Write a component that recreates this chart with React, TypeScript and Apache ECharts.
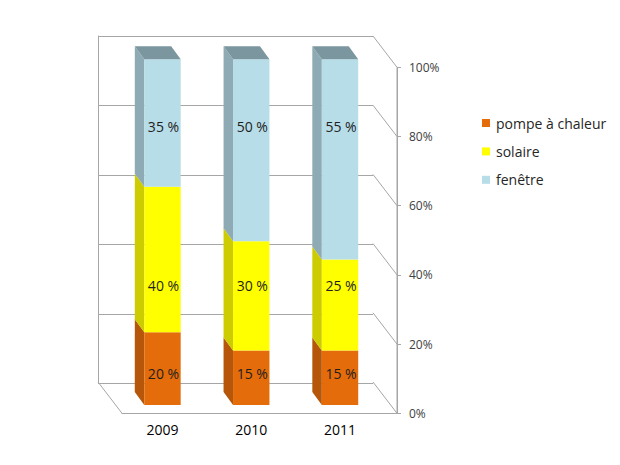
import React, { useEffect, useRef } from "react";
import * as echarts from "echarts";

// ---- data ----
const categories = ["2009", "2010", "2011"];
const seriesNames = ["pompe à chaleur", "solaire", "fenêtre"];
const pompeValues = [20, 15, 15];
const solaireValues = [40, 30, 25];
const fenetreValues = [35, 50, 55];
const tickValues = [0, 20, 40, 60, 80, 100];

// ---- styling / geometry ----
const FRONT_COLORS = ["#E46C0A", "#FFFF00", "#B7DDE8"];
const SIDE_COLORS = ["#B5560A", "#CCCC00", "#8EAAB4"];
const TOP_COLOR = "#7B969F";
const LINE_COLOR = "#A6A6A6";
const FONT = "'Open Sans', 'DejaVu Sans', sans-serif";
const LABEL_ROWS = [9, 34.7, 80.5]; // label rows (in % of axis) per series
const BAR_FRAC = 0.41;
const BAR_DX = 9.5;
const BAR_DY = 13;

const BACK = { left: 98, top: 36, width: 275, height: 347.3 };
const DEPTH_X = 24;
const DEPTH_Y = 31.3;
const FRONT = {
  left: BACK.left + DEPTH_X,
  top: BACK.top + DEPTH_Y,
  width: BACK.width,
  height: BACK.height - 1.3,
};
const BARS = { left: 118.1, top: 59.3, width: 266.3, height: 345.7 };

const W = 620;
const H = 465;

function gridOf(g: { left: number; top: number; width: number; height: number }) {
  return { left: g.left, top: g.top, width: g.width, height: g.height, containLabel: false };
}

export default function App() {
  const ref = useRef<HTMLDivElement>(null);

  useEffect(() => {
    if (!ref.current) return;
    const chart = echarts.init(ref.current, null, { renderer: "svg", width: W, height: H });

    const raw = [pompeValues, solaireValues, fenetreValues];
    const totals = categories.map((_, c) => raw.reduce((s, arr) => s + arr[c], 0));
    const cumulative = categories.map(() => 0);

    const barSeries = raw.map((arr, si) => {
      const data = arr.map((v, c) => {
        const bottom = cumulative[c];
        const top = bottom + (v / totals[c]) * 100;
        cumulative[c] = top;
        return [c, bottom, top, v];
      });
      const isTop = si === raw.length - 1;
      return {
        type: "custom",
        name: seriesNames[si],
        xAxisIndex: 2,
        yAxisIndex: 2,
        clip: false,
        z: 5,
        itemStyle: { color: FRONT_COLORS[si] },
        data,
        renderItem: (params: any, api: any) => {
          const c = api.value(0);
          const b = api.value(1);
          const t = api.value(2);
          const v = api.value(3);
          const pb = api.coord([c, b]);
          const pt = api.coord([c, t]);
          const w = api.size([1, 0])[0] * BAR_FRAC;
          const x0 = pb[0] - w / 2;
          const x1 = x0 + w;
          const yb = pb[1];
          const yt = pt[1];
          const children: any[] = [
            {
              type: "polygon",
              shape: {
                points: [
                  [x0, yb],
                  [x0, yt],
                  [x0 - BAR_DX, yt - BAR_DY],
                  [x0 - BAR_DX, yb - BAR_DY],
                ],
              },
              style: { fill: SIDE_COLORS[si] },
            },
            {
              type: "rect",
              shape: { x: x0, y: yt, width: w, height: yb - yt },
              style: { fill: FRONT_COLORS[si] },
            },
          ];
          if (isTop) {
            children.push({
              type: "polygon",
              shape: {
                points: [
                  [x0, yt],
                  [x1, yt],
                  [x1 - BAR_DX, yt - BAR_DY],
                  [x0 - BAR_DX, yt - BAR_DY],
                ],
              },
              style: { fill: TOP_COLOR },
            });
          }
          const ly = api.coord([c, LABEL_ROWS[si]])[1];
          children.push({
            type: "text",
            x: pb[0] + 1,
            y: ly,
            style: {
              text: v + " %",
              fill: "#1F1F1F",
              font: "14px " + FONT,
              align: "center",
              verticalAlign: "middle",
            },
          });
          return { type: "group", children };
        },
      };
    });

    const connectorSeries = {
      type: "custom",
      name: "connectors",
      xAxisIndex: 1,
      yAxisIndex: 1,
      clip: false,
      z: 2,
      silent: true,
      data: tickValues.map((v) => [1, v]),
      renderItem: (params: any, api: any) => {
        const v = api.value(1);
        const p = api.coord([1, v]);
        const children: any[] = [
          {
            type: "line",
            shape: { x1: p[0] - DEPTH_X, y1: p[1] - DEPTH_Y, x2: p[0], y2: p[1] },
            style: { stroke: LINE_COLOR, lineWidth: 1 },
          },
        ];
        if (v === 0) {
          const q = api.coord([0, 0]);
          const top = api.coord([1, tickValues[tickValues.length - 1]]);
          children.push({
            type: "line",
            shape: { x1: q[0] - DEPTH_X, y1: q[1] - DEPTH_Y, x2: q[0], y2: q[1] },
            style: { stroke: LINE_COLOR, lineWidth: 1 },
          });
          children.push({
            type: "line",
            shape: { x1: p[0], y1: p[1], x2: top[0], y2: top[1] },
            style: { stroke: LINE_COLOR, lineWidth: 1 },
          });
        }
        return { type: "group", children };
      },
    };

    const option: any = {
      animation: false,
      backgroundColor: "#FFFFFF",
      textStyle: { fontFamily: FONT },
      legend: {
        orient: "vertical",
        left: 477,
        top: 111,
        itemWidth: 8,
        itemHeight: 8,
        itemGap: 14.4,
        selectedMode: false,
        textStyle: { fontSize: 14, lineHeight: 14, color: "#262626", fontFamily: FONT, padding: [0, 0, 0, 1] },
        data: seriesNames.map((n, i) => ({ name: n, icon: "rect", itemStyle: { color: FRONT_COLORS[i] } })),
      },
      grid: [gridOf(BACK), gridOf(FRONT), gridOf(BARS)],
      xAxis: [
        { type: "value", gridIndex: 0, min: 0, max: 1, show: false },
        {
          type: "value",
          gridIndex: 1,
          min: 0,
          max: 1,
          axisLine: { show: true, onZero: false, lineStyle: { color: LINE_COLOR } },
          axisTick: { show: false },
          axisLabel: { show: false },
          splitLine: { show: false },
        },
        {
          type: "category",
          gridIndex: 2,
          data: categories,
          axisLine: { show: false },
          axisTick: { show: false },
          splitLine: { show: false },
          axisLabel: { color: "#000000", fontSize: 14, lineHeight: 16, margin: 16, fontFamily: FONT },
        },
      ],
      yAxis: [
        {
          type: "value",
          gridIndex: 0,
          min: 0,
          max: 100,
          interval: 20,
          axisLine: { show: true, onZero: false, lineStyle: { color: LINE_COLOR } },
          axisTick: { show: false },
          axisLabel: { show: false },
          splitLine: { show: true, lineStyle: { color: LINE_COLOR, width: 1 } },
        },
        {
          type: "value",
          gridIndex: 1,
          position: "right",
          min: 0,
          max: 100,
          interval: 20,
          axisLine: { show: true, onZero: false, lineStyle: { color: LINE_COLOR } },
          axisTick: { show: true, length: 4, lineStyle: { color: LINE_COLOR } },
          axisLabel: { formatter: "{value}%", color: "#404040", fontSize: 12, margin: 12, fontFamily: FONT },
          splitLine: { show: false },
        },
        { type: "value", gridIndex: 2, min: 0, max: 100, show: false },
      ],
      series: [connectorSeries, ...barSeries],
    };

    chart.setOption(option);
    return () => chart.dispose();
  }, []);

  return (
    <div
      ref={ref}
      style={{ position: "fixed", left: 0, top: 0, width: W, height: H, background: "#fff" }}
    />
  );
}
